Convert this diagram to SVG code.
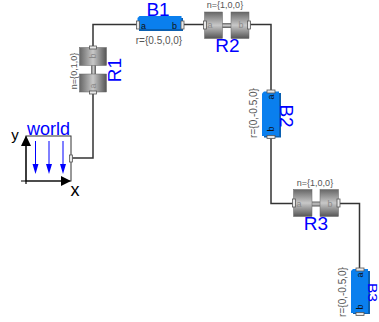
<svg xmlns="http://www.w3.org/2000/svg" width="379" height="322" viewBox="0 0 379 322">
<style>
text{font-family:"Liberation Sans",Arial,sans-serif}
.name{fill:#0000ff;font-size:19px;text-anchor:middle}
.par{fill:#555;font-size:9px;text-anchor:middle}
.rpar{fill:#555;font-size:10px;text-anchor:middle}
.port{fill:#e8e8e8;stroke:#555;stroke-width:.8}
.wire{fill:none;stroke:#333;stroke-width:1.5}
.body{fill:#0a7fee}
.shadow{fill:#0a5fb0}
.grav{stroke:#0000ff;stroke-width:1;fill:none}
.lt{fill:#8a8a8a;font-size:9px;text-anchor:middle}
.cyl{stroke:#666;stroke-width:.5}
</style>
<defs>
<linearGradient id="gh" x1="0" y1="0" x2="0" y2="1"><stop offset="0" stop-color="#666"/><stop offset=".5" stop-color="#c8c8c8"/><stop offset="1" stop-color="#555"/></linearGradient>
<linearGradient id="gv" x1="0" y1="0" x2="1" y2="0"><stop offset="0" stop-color="#666"/><stop offset=".5" stop-color="#c8c8c8"/><stop offset="1" stop-color="#555"/></linearGradient>
</defs>
<g id="connectors">
<path class="wire" d="M72 158H93V91"/>
<path class="wire" d="M93 47V24.500H138"/>
<path class="wire" d="M182 24.500H204"/>
<path class="wire" d="M250 24.500H271V92"/>
<path class="wire" d="M271 137V203.500H294"/>
<path class="wire" d="M339 203.500H359.500V270"/>
</g>
<g id="world">
<rect x="26" y="136" width="45" height="45" fill="#fff" stroke="#333" stroke-width="1"/>
<path d="M26 184V140M21 181H66" stroke="#000" stroke-width="1.200" fill="none"/>
<path d="M26 135.500L31 146H21zM71 181L61 176V186z" fill="#000"/>
<path class="grav" d="M35.500 141V166M49 141V166M63 141V166"/>
<path d="M32.500 164H38.500L35.500 174zM46 164H52L49 174zM60 164H66L63 174z" fill="#0000ff"/>
<rect class="port" x="69.500" y="155" width="3" height="7"/>
<text class="name" style="font-size:18px" x="48.500" y="135">world</text>
<text x="15" y="140" font-size="15" text-anchor="middle">y</text>
<text x="75" y="196" font-size="18" text-anchor="middle">x</text>
</g>
<g id="R1">
<rect x="91" y="65" width="5" height="9" fill="url(#gv)"/>
<rect class="cyl" x="79.500" y="47.500" width="27" height="18" fill="url(#gv)"/>
<rect class="cyl" x="79.500" y="74" width="27" height="18" fill="url(#gv)"/>
<text class="lt" transform="translate(96,56) rotate(-90)">b</text>
<text class="lt" transform="translate(96,86) rotate(-90)">a</text>
<rect class="port" x="89.500" y="46" width="7" height="3"/>
<rect class="port" x="89.500" y="91" width="7" height="3"/>
<text class="par" transform="translate(77,71) rotate(-90)">n={0,1,0}</text>
<text class="name" transform="translate(120.500,70) rotate(-90)">R1</text>
</g>
<g id="B1">
<rect class="shadow" x="139" y="18" width="44" height="13"/>
<path class="body" d="M139.500 16H181.500V29H137.500V18z"/>
<rect class="port" x="136.500" y="21" width="3" height="8"/>
<rect class="port" x="181" y="21" width="3" height="8"/>
<text x="141" y="29" font-size="9" fill="#111">a</text>
<text x="172" y="29" font-size="9" fill="#111">b</text>
<text class="name" x="158" y="16">B1</text>
<text class="rpar" x="159" y="44">r={0.5,0,0}</text>
</g>
<g id="R2">
<rect x="222" y="23" width="10" height="5" fill="url(#gh)"/>
<rect class="cyl" x="204.500" y="12" width="18" height="26.500" fill="url(#gh)"/>
<rect class="cyl" x="231" y="12" width="18" height="26.500" fill="url(#gh)"/>
<text class="lt" x="210" y="28">a</text>
<text class="lt" x="241" y="28">b</text>
<rect class="port" x="203.500" y="21" width="3" height="8"/>
<rect class="port" x="247.500" y="21" width="3" height="8"/>
<text class="par" x="225" y="8">n={1,0,0}</text>
<text class="name" x="227.500" y="52">R2</text>
</g>
<g id="B2">
<rect class="shadow" x="264" y="93" width="17" height="44.500"/>
<path class="body" d="M264 91.500H279V136H262V93.500z"/>
<rect class="port" x="267" y="90" width="8" height="3"/>
<rect class="port" x="267" y="135.500" width="8" height="3"/>
<text transform="translate(274,97) rotate(-90)" font-size="9" fill="#111" text-anchor="middle">a</text>
<text transform="translate(274,129) rotate(-90)" font-size="9" fill="#111" text-anchor="middle">b</text>
<text class="rpar" transform="translate(257,113) rotate(-90)">r={0,-0.5,0}</text>
<text class="name" transform="translate(280,116) rotate(90)">B2</text>
</g>
<g id="R3">
<rect x="312" y="201.500" width="8" height="5" fill="url(#gh)"/>
<rect class="cyl" x="293.500" y="189.500" width="18.500" height="27" fill="url(#gh)"/>
<rect class="cyl" x="320" y="189.500" width="18.500" height="27" fill="url(#gh)"/>
<text class="lt" x="299" y="207">a</text>
<text class="lt" x="330" y="207">b</text>
<rect class="port" x="292.500" y="199" width="3" height="8"/>
<rect class="port" x="337" y="199" width="3" height="8"/>
<text class="par" x="315" y="186">n={1,0,0}</text>
<text class="name" x="316" y="230">R3</text>
</g>
<g id="B3">
<rect class="shadow" x="353" y="271" width="17" height="43"/>
<path class="body" d="M353 269H368V313H351V271z"/>
<rect class="port" x="356" y="268" width="8" height="3"/>
<rect class="port" x="356" y="312.500" width="8" height="3"/>
<text transform="translate(363,275) rotate(-90)" font-size="9" fill="#111" text-anchor="middle">a</text>
<text transform="translate(363,307) rotate(-90)" font-size="9" fill="#111" text-anchor="middle">b</text>
<text class="rpar" transform="translate(346,292) rotate(-90)">r={0,-0.5,0}</text>
<text transform="translate(368,283) rotate(90)" font-size="12" fill="#0000ff" textLength="19" lengthAdjust="spacingAndGlyphs">B3</text>
</g>
</svg>
